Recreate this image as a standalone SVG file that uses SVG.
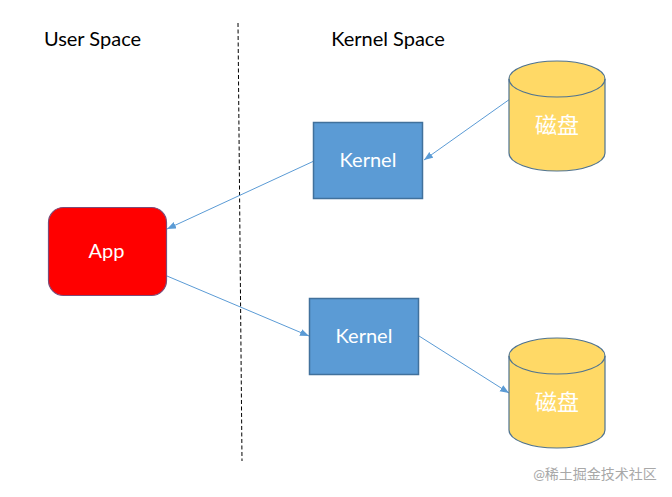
<svg xmlns="http://www.w3.org/2000/svg" width="672" height="497" viewBox="0 0 672 497">
<style>
text{font-family:Lato,"Noto Sans CJK SC",sans-serif;text-anchor:middle}
.h{font-size:20px;fill:#000}
.w{font-size:20px;fill:#fff}
.box{fill:#5b9bd5;stroke:#41719c;stroke-width:1.5}
.disk{fill:#ffd966;stroke:#4f7391;stroke-width:1.2}
.c{stroke:#5b9bd5;stroke-width:1;fill:none;marker-end:url(#a)}
</style>
<defs>
<marker id="a" markerWidth="10" markerHeight="8" refX="9" refY="3.500" orient="auto" markerUnits="userSpaceOnUse"><path d="M0 0L9 3.500L0 7Z" fill="#5b9bd5"/></marker>
<g id="drum"><path class="disk" d="M509 79C509 69 530 61 557 61S605 69 605 79V153C605 163 584 171 557 171S509 163 509 153Z"/><path class="disk" d="M509 79C509 89 530 97 557 97S605 89 605 79" style="fill:none"/></g>
</defs>
<rect width="672" height="497" fill="#fff"/>
<text class="h" x="92.500" y="46">User Space</text>
<text class="h" x="388" y="46">Kernel Space</text>
<path d="M238 23L242 461" stroke="#000" stroke-width="1" stroke-dasharray="4 2.500" fill="none"/>
<g id="connectors">
<path class="c" d="M510 99L424 160"/>
<path class="c" d="M314 161L167 229"/>
<path class="c" d="M167 276L309 336"/>
<path class="c" d="M419 336L509 393"/>
</g>
<g id="app"><rect x="48.500" y="207.500" width="118" height="88" rx="15" fill="#f00" stroke="#7d4b78" stroke-width="1.200"/><text class="w" x="106.500" y="258">App</text></g>
<g id="kernel-top"><rect class="box" x="313.500" y="122.500" width="109" height="76"/><text class="w" x="368" y="167">Kernel</text></g>
<g id="kernel-bottom"><rect class="box" x="309.500" y="298.500" width="109" height="76"/><text class="w" x="364" y="343">Kernel</text></g>
<g id="disk-top"><use href="#drum"/><text x="557" y="133" style="font-size:22px;fill:#fff">磁盘</text></g>
<g id="disk-bottom"><use href="#drum" y="277"/><text x="557" y="410" style="font-size:22px;fill:#fff">磁盘</text></g>
<text x="595" y="479" style="font-size:14px;fill:#a8a8a8">@稀土掘金技术社区</text>
</svg>
